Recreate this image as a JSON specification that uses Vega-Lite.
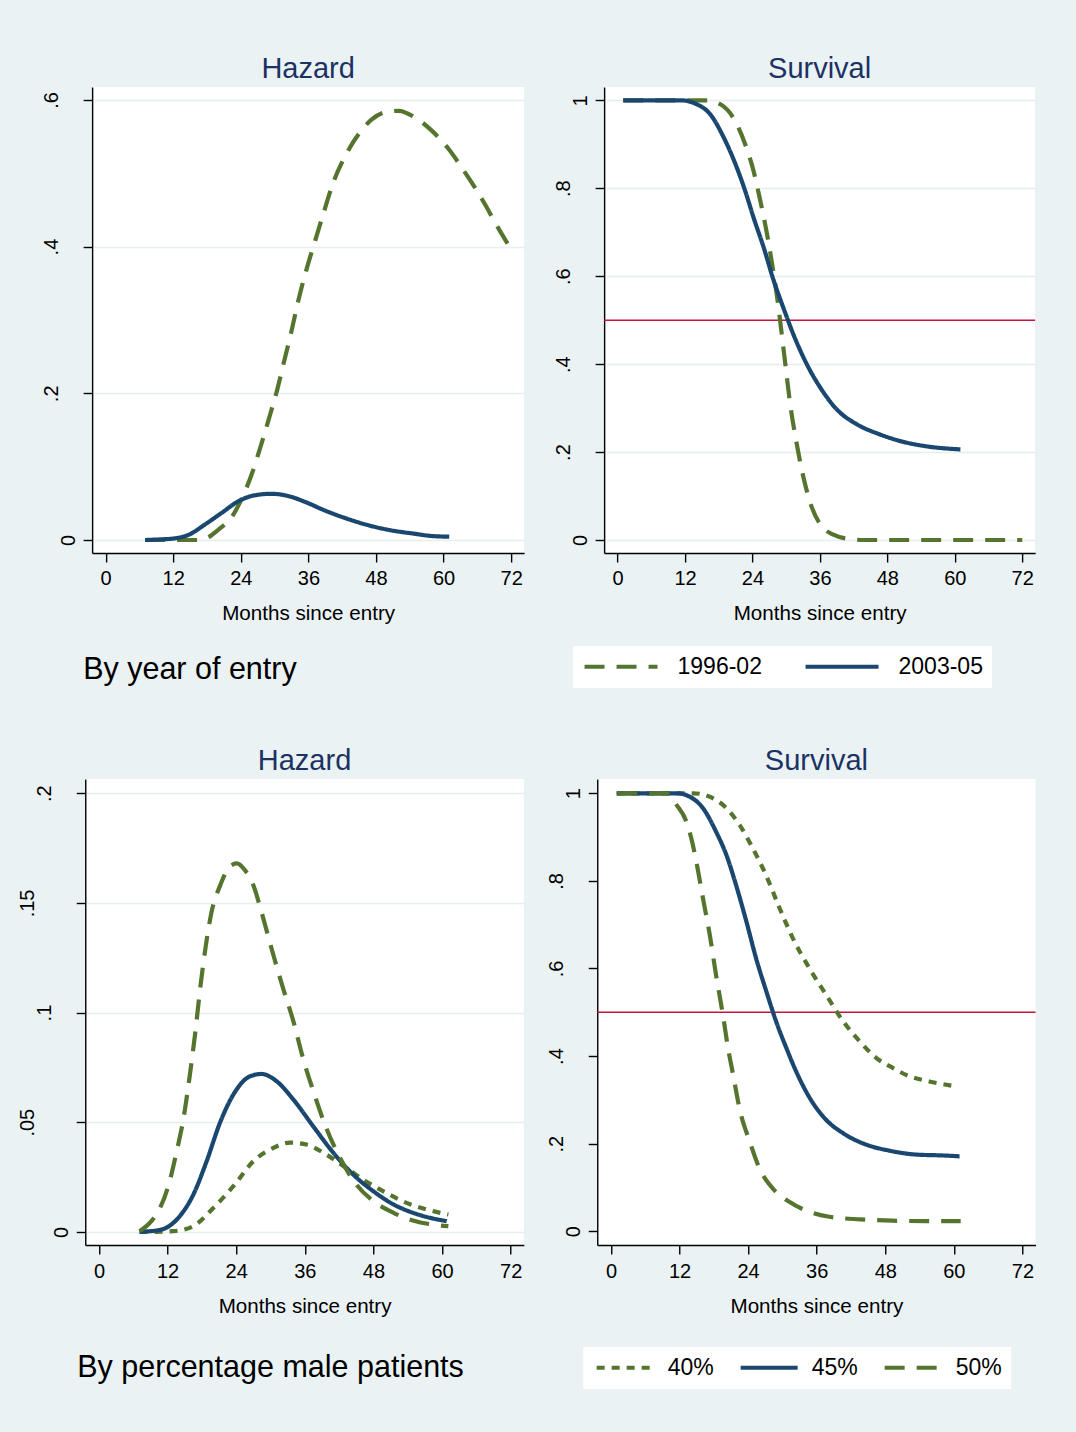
{
  "$schema": "https://vega.github.io/schema/vega-lite/v6.json",
  "background": "#EAF2F3",
  "padding": {"left": 15, "top": 55, "right": 45, "bottom": 50},
  "datasets": {
    "h1": [
      {"m": 7, "v": 0, "g": "1996-02"}, {"m": 10, "v": 0, "g": "1996-02"}, {"m": 13, "v": 0, "g": "1996-02"}, {"m": 16.5, "v": 0, "g": "1996-02"},
      {"m": 18.5, "v": 0.005, "g": "1996-02"}, {"m": 20, "v": 0.014, "g": "1996-02"}, {"m": 22.7, "v": 0.035, "g": "1996-02"}, {"m": 24.2, "v": 0.057, "g": "1996-02"},
      {"m": 25.9, "v": 0.089, "g": "1996-02"}, {"m": 27.7, "v": 0.132, "g": "1996-02"}, {"m": 29.2, "v": 0.171, "g": "1996-02"}, {"m": 30.4, "v": 0.203, "g": "1996-02"},
      {"m": 31.6, "v": 0.241, "g": "1996-02"}, {"m": 33, "v": 0.285, "g": "1996-02"}, {"m": 34.2, "v": 0.326, "g": "1996-02"}, {"m": 35.7, "v": 0.37, "g": "1996-02"},
      {"m": 37.2, "v": 0.408, "g": "1996-02"}, {"m": 38.7, "v": 0.446, "g": "1996-02"}, {"m": 40.4, "v": 0.487, "g": "1996-02"}, {"m": 42.5, "v": 0.523, "g": "1996-02"},
      {"m": 44.9, "v": 0.553, "g": "1996-02"}, {"m": 47.2, "v": 0.573, "g": "1996-02"}, {"m": 49.6, "v": 0.583, "g": "1996-02"}, {"m": 52, "v": 0.585, "g": "1996-02"},
      {"m": 54.9, "v": 0.576, "g": "1996-02"}, {"m": 57.9, "v": 0.558, "g": "1996-02"}, {"m": 60.9, "v": 0.533, "g": "1996-02"}, {"m": 63.2, "v": 0.508, "g": "1996-02"},
      {"m": 65.6, "v": 0.48, "g": "1996-02"}, {"m": 67.4, "v": 0.457, "g": "1996-02"}, {"m": 69.2, "v": 0.432, "g": "1996-02"}, {"m": 72, "v": 0.396, "g": "1996-02"},
      {"m": 7, "v": 0, "g": "2003-05"}, {"m": 10, "v": 0.001, "g": "2003-05"}, {"m": 12, "v": 0.002, "g": "2003-05"}, {"m": 14.7, "v": 0.007, "g": "2003-05"},
      {"m": 17.6, "v": 0.021, "g": "2003-05"}, {"m": 20.6, "v": 0.037, "g": "2003-05"}, {"m": 23.6, "v": 0.053, "g": "2003-05"}, {"m": 26.5, "v": 0.061, "g": "2003-05"},
      {"m": 29.5, "v": 0.063, "g": "2003-05"}, {"m": 32.4, "v": 0.06, "g": "2003-05"}, {"m": 35.4, "v": 0.052, "g": "2003-05"}, {"m": 39, "v": 0.04, "g": "2003-05"},
      {"m": 42.5, "v": 0.03, "g": "2003-05"}, {"m": 46.7, "v": 0.02, "g": "2003-05"}, {"m": 50.8, "v": 0.013, "g": "2003-05"}, {"m": 54.4, "v": 0.009, "g": "2003-05"},
      {"m": 57.9, "v": 0.0055, "g": "2003-05"}, {"m": 61, "v": 0.0045, "g": "2003-05"}
    ],
    "s1": [
      {"m": 1, "v": 1, "g": "1996-02"}, {"m": 8, "v": 1, "g": "1996-02"}, {"m": 15.9, "v": 1, "g": "1996-02"}, {"m": 18.3, "v": 0.991, "g": "1996-02"},
      {"m": 20.6, "v": 0.96, "g": "1996-02"}, {"m": 22.7, "v": 0.9, "g": "1996-02"}, {"m": 24.2, "v": 0.839, "g": "1996-02"}, {"m": 25.4, "v": 0.771, "g": "1996-02"},
      {"m": 26.6, "v": 0.695, "g": "1996-02"}, {"m": 27.5, "v": 0.627, "g": "1996-02"}, {"m": 28.4, "v": 0.551, "g": "1996-02"}, {"m": 29.1, "v": 0.48, "g": "1996-02"},
      {"m": 29.8, "v": 0.405, "g": "1996-02"}, {"m": 30.7, "v": 0.31, "g": "1996-02"}, {"m": 31.9, "v": 0.217, "g": "1996-02"}, {"m": 33.1, "v": 0.141, "g": "1996-02"},
      {"m": 34.6, "v": 0.073, "g": "1996-02"}, {"m": 36.1, "v": 0.035, "g": "1996-02"}, {"m": 38.4, "v": 0.012, "g": "1996-02"}, {"m": 41.4, "v": 0.002, "g": "1996-02"},
      {"m": 43.8, "v": 0, "g": "1996-02"}, {"m": 50, "v": 0, "g": "1996-02"}, {"m": 60, "v": 0, "g": "1996-02"}, {"m": 72, "v": 0, "g": "1996-02"},
      {"m": 1, "v": 1, "g": "2003-05"}, {"m": 8, "v": 1, "g": "2003-05"}, {"m": 11.2, "v": 1, "g": "2003-05"}, {"m": 14.1, "v": 0.991, "g": "2003-05"},
      {"m": 16.5, "v": 0.968, "g": "2003-05"}, {"m": 18.9, "v": 0.915, "g": "2003-05"}, {"m": 21, "v": 0.854, "g": "2003-05"}, {"m": 22.7, "v": 0.794, "g": "2003-05"},
      {"m": 24.2, "v": 0.733, "g": "2003-05"}, {"m": 26, "v": 0.665, "g": "2003-05"}, {"m": 27.8, "v": 0.589, "g": "2003-05"}, {"m": 29.5, "v": 0.528, "g": "2003-05"},
      {"m": 31.3, "v": 0.467, "g": "2003-05"}, {"m": 33.7, "v": 0.399, "g": "2003-05"}, {"m": 36.1, "v": 0.346, "g": "2003-05"}, {"m": 39, "v": 0.297, "g": "2003-05"},
      {"m": 42.6, "v": 0.263, "g": "2003-05"}, {"m": 46.7, "v": 0.24, "g": "2003-05"}, {"m": 50.3, "v": 0.225, "g": "2003-05"}, {"m": 55, "v": 0.213, "g": "2003-05"},
      {"m": 61, "v": 0.206, "g": "2003-05"}
    ],
    "h2": [
      {"m": 7.1, "v": 0, "g": "40%"}, {"m": 10, "v": 0, "g": "40%"}, {"m": 13, "v": 0.0003, "g": "40%"}, {"m": 16.5, "v": 0.0026, "g": "40%"},
      {"m": 20, "v": 0.0109, "g": "40%"}, {"m": 23.5, "v": 0.0208, "g": "40%"}, {"m": 27, "v": 0.0322, "g": "40%"}, {"m": 30.5, "v": 0.0383, "g": "40%"},
      {"m": 33.4, "v": 0.0407, "g": "40%"}, {"m": 36.3, "v": 0.0398, "g": "40%"}, {"m": 39.8, "v": 0.0352, "g": "40%"}, {"m": 43.3, "v": 0.029, "g": "40%"},
      {"m": 46.7, "v": 0.023, "g": "40%"}, {"m": 50.2, "v": 0.0178, "g": "40%"}, {"m": 53.8, "v": 0.0132, "g": "40%"}, {"m": 57.3, "v": 0.0102, "g": "40%"},
      {"m": 61.1, "v": 0.0079, "g": "40%"},
      {"m": 7.1, "v": 0, "g": "45%"}, {"m": 10.7, "v": 0.0009, "g": "45%"}, {"m": 13.6, "v": 0.0056, "g": "45%"}, {"m": 16.5, "v": 0.017, "g": "45%"},
      {"m": 18.8, "v": 0.032, "g": "45%"}, {"m": 21.2, "v": 0.05, "g": "45%"}, {"m": 23.5, "v": 0.0626, "g": "45%"}, {"m": 26.4, "v": 0.0709, "g": "45%"},
      {"m": 28.4, "v": 0.072, "g": "45%"}, {"m": 31.1, "v": 0.0686, "g": "45%"}, {"m": 34, "v": 0.0603, "g": "45%"}, {"m": 37.5, "v": 0.048, "g": "45%"},
      {"m": 41, "v": 0.036, "g": "45%"}, {"m": 44.5, "v": 0.026, "g": "45%"}, {"m": 48, "v": 0.0185, "g": "45%"}, {"m": 51.5, "v": 0.0125, "g": "45%"},
      {"m": 54.9, "v": 0.0087, "g": "45%"}, {"m": 58.4, "v": 0.0061, "g": "45%"}, {"m": 60.8, "v": 0.0049, "g": "45%"},
      {"m": 7.1, "v": 0.0003, "g": "50%"}, {"m": 9.2, "v": 0.005, "g": "50%"}, {"m": 10.7, "v": 0.011, "g": "50%"}, {"m": 12.2, "v": 0.0216, "g": "50%"},
      {"m": 13.6, "v": 0.0368, "g": "50%"}, {"m": 14.8, "v": 0.052, "g": "50%"}, {"m": 15.9, "v": 0.0717, "g": "50%"}, {"m": 16.8, "v": 0.09, "g": "50%"},
      {"m": 17.7, "v": 0.111, "g": "50%"}, {"m": 18.6, "v": 0.129, "g": "50%"}, {"m": 19.7, "v": 0.146, "g": "50%"}, {"m": 21.2, "v": 0.158, "g": "50%"},
      {"m": 22.9, "v": 0.1666, "g": "50%"}, {"m": 24.1, "v": 0.168, "g": "50%"}, {"m": 25.5, "v": 0.165, "g": "50%"}, {"m": 27, "v": 0.158, "g": "50%"},
      {"m": 28.4, "v": 0.146, "g": "50%"}, {"m": 30.2, "v": 0.129, "g": "50%"}, {"m": 32.2, "v": 0.111, "g": "50%"}, {"m": 34, "v": 0.096, "g": "50%"},
      {"m": 35.7, "v": 0.079, "g": "50%"}, {"m": 37.5, "v": 0.064, "g": "50%"}, {"m": 39.8, "v": 0.047, "g": "50%"}, {"m": 42.1, "v": 0.034, "g": "50%"},
      {"m": 45, "v": 0.0216, "g": "50%"}, {"m": 48, "v": 0.014, "g": "50%"}, {"m": 51.5, "v": 0.0087, "g": "50%"}, {"m": 54.9, "v": 0.0052, "g": "50%"},
      {"m": 58.4, "v": 0.0033, "g": "50%"}, {"m": 61.1, "v": 0.0026, "g": "50%"}
    ],
    "s2": [
      {"m": 1, "v": 1, "g": "40%"}, {"m": 8, "v": 1, "g": "40%"}, {"m": 14.4, "v": 1, "g": "40%"}, {"m": 17.3, "v": 0.992, "g": "40%"},
      {"m": 20.2, "v": 0.966, "g": "40%"}, {"m": 22.5, "v": 0.928, "g": "40%"}, {"m": 24.8, "v": 0.875, "g": "40%"}, {"m": 27.1, "v": 0.814, "g": "40%"},
      {"m": 29.5, "v": 0.738, "g": "40%"}, {"m": 31.8, "v": 0.67, "g": "40%"}, {"m": 34.7, "v": 0.601, "g": "40%"}, {"m": 37.6, "v": 0.541, "g": "40%"},
      {"m": 40.6, "v": 0.48, "g": "40%"}, {"m": 43.5, "v": 0.434, "g": "40%"}, {"m": 46.4, "v": 0.396, "g": "40%"}, {"m": 49.3, "v": 0.373, "g": "40%"},
      {"m": 52.2, "v": 0.354, "g": "40%"}, {"m": 55.7, "v": 0.342, "g": "40%"}, {"m": 60.3, "v": 0.331, "g": "40%"},
      {"m": 1, "v": 1, "g": "45%"}, {"m": 8, "v": 1, "g": "45%"}, {"m": 11.5, "v": 1, "g": "45%"}, {"m": 13.8, "v": 0.992, "g": "45%"},
      {"m": 16.1, "v": 0.966, "g": "45%"}, {"m": 18.4, "v": 0.912, "g": "45%"}, {"m": 20.2, "v": 0.859, "g": "45%"}, {"m": 21.9, "v": 0.79, "g": "45%"},
      {"m": 23.7, "v": 0.707, "g": "45%"}, {"m": 25.4, "v": 0.623, "g": "45%"}, {"m": 27.2, "v": 0.547, "g": "45%"}, {"m": 28.9, "v": 0.479, "g": "45%"},
      {"m": 30.7, "v": 0.418, "g": "45%"}, {"m": 32.4, "v": 0.365, "g": "45%"}, {"m": 34.8, "v": 0.304, "g": "45%"}, {"m": 37.6, "v": 0.255, "g": "45%"},
      {"m": 40.6, "v": 0.224, "g": "45%"}, {"m": 44.6, "v": 0.198, "g": "45%"}, {"m": 48.7, "v": 0.184, "g": "45%"}, {"m": 53.4, "v": 0.175, "g": "45%"},
      {"m": 58, "v": 0.173, "g": "45%"}, {"m": 61, "v": 0.171, "g": "45%"},
      {"m": 1.1, "v": 1, "g": "50%"}, {"m": 6, "v": 1, "g": "50%"}, {"m": 9.7, "v": 1, "g": "50%"}, {"m": 11.5, "v": 0.973, "g": "50%"},
      {"m": 13.2, "v": 0.935, "g": "50%"}, {"m": 14.1, "v": 0.895, "g": "50%"}, {"m": 14.95, "v": 0.843, "g": "50%"}, {"m": 16.1, "v": 0.76, "g": "50%"},
      {"m": 17.3, "v": 0.676, "g": "50%"}, {"m": 18.4, "v": 0.584, "g": "50%"}, {"m": 19.6, "v": 0.493, "g": "50%"}, {"m": 20.5, "v": 0.417, "g": "50%"},
      {"m": 21.4, "v": 0.356, "g": "50%"}, {"m": 22.5, "v": 0.28, "g": "50%"}, {"m": 24.3, "v": 0.204, "g": "50%"}, {"m": 26, "v": 0.143, "g": "50%"},
      {"m": 28.3, "v": 0.098, "g": "50%"}, {"m": 31.2, "v": 0.067, "g": "50%"}, {"m": 34.8, "v": 0.044, "g": "50%"}, {"m": 38.2, "v": 0.033, "g": "50%"},
      {"m": 43.6, "v": 0.027, "g": "50%"}, {"m": 49.3, "v": 0.024, "g": "50%"}, {"m": 55.1, "v": 0.023, "g": "50%"}, {"m": 61.2, "v": 0.023, "g": "50%"}
    ]
  },
  "columns": 1,
  "center": true,
  "spacing": 59,
  "concat": [
    {
      "title": {"text": "By year of entry", "orient": "bottom", "anchor": "start", "frame": "bounds", "fontSize": 30.5, "color": "black", "baseline": "alphabetic", "offset": -9.4, "dx": 68},
      "spacing": 15,
      "resolve": {"scale": {"color": "independent", "strokeDash": "independent"}, "legend": {"color": "independent", "strokeDash": "independent"}},
      "hconcat": [
        {
          "title": "Hazard",
          "width": 432, "height": 466,
          "data": {"name": "h1"},
          "mark": {"type": "line", "strokeWidth": 4.2, "interpolate": "monotone"},
          "encoding": {
            "x": {"field": "m", "type": "quantitative", "title": "Months since entry",
                  "scale": {"domain": [-2.4, 74.3], "nice": false, "zero": false},
                  "axis": {"values": [0, 12, 24, 36, 48, 60, 72], "labelPadding": 6}},
            "y": {"field": "v", "type": "quantitative", "title": null,
                  "scale": {"domain": [-0.0177, 0.6175], "nice": false, "zero": false},
                  "axis": {"values": [0, 0.2, 0.4, 0.6], "minExtent": 77,
                           "labelExpr": "replace(toString(datum.value), '0.', '.')",
                           "labelPadding": {"condition": {"test": "datum.value == 0", "value": 14.4}, "value": 31.4}}},
            "color": {"field": "g", "type": "nominal", "legend": null,
                      "scale": {"domain": ["1996-02", "2003-05"], "range": ["#55752F", "#1A476F"]}},
            "strokeDash": {"field": "g", "type": "nominal", "legend": null,
                      "scale": {"domain": ["1996-02", "2003-05"], "range": [[20, 12], [1, 0]]}}
          }
        },
        {
          "title": "Survival",
          "width": 431, "height": 466,
          "layer": [
            {
              "data": {"values": [{"v": 0.5}]},
              "mark": {"type": "rule", "color": "#C8143C", "strokeWidth": 1.5},
              "encoding": {"y": {"field": "v", "type": "quantitative"}}
            },
            {
              "data": {"name": "s1"},
              "mark": {"type": "line", "strokeWidth": 4.2, "interpolate": "monotone"},
              "encoding": {
                "x": {"field": "m", "type": "quantitative", "title": "Months since entry",
                      "scale": {"domain": [-2.4, 74.3], "nice": false, "zero": false},
                      "axis": {"values": [0, 12, 24, 36, 48, 60, 72], "labelPadding": 6}},
                "y": {"field": "v", "type": "quantitative", "title": null,
                      "scale": {"domain": [-0.0296, 1.0303], "nice": false, "zero": false},
                      "axis": {"values": [0, 0.2, 0.4, 0.6, 0.8, 1], "minExtent": 64.7,
                               "labelExpr": "replace(toString(datum.value), '0.', '.')",
                               "labelPadding": {"condition": {"test": "datum.value == 0 || datum.value == 1", "value": 14.4}, "value": 31.4}}},
                "color": {"field": "g", "type": "nominal",
                          "scale": {"domain": ["1996-02", "2003-05"], "range": ["#55752F", "#1A476F"]},
                          "legend": {"orient": "none", "legendX": -31, "legendY": 559, "direction": "horizontal", "title": null,
                                     "fillColor": "white", "padding": 9, "symbolType": "M-4,0H4", "symbolSize": 333, "symbolOffset": 27.4, "symbolStrokeWidth": 4.2,
                                     "labelFontSize": 23, "labelOffset": 45, "columnPadding": 35, "labelColor": "black", "labelFont": "Liberation Sans"}},
                "strokeDash": {"field": "g", "type": "nominal",
                          "scale": {"domain": ["1996-02", "2003-05"], "range": [[20, 12], [1, 0]]},
                          "legend": {"orient": "none", "legendX": -31, "legendY": 559, "direction": "horizontal", "title": null,
                                     "fillColor": "white", "padding": 9, "symbolType": "M-4,0H4", "symbolSize": 333, "symbolOffset": 27.4, "symbolStrokeWidth": 4.2,
                                     "labelFontSize": 23, "labelOffset": 45, "columnPadding": 35, "labelColor": "black", "labelFont": "Liberation Sans"}}
              }
            }
          ]
        }
      ]
    },
    {
      "title": {"text": "By percentage male patients", "orient": "bottom", "anchor": "start", "frame": "bounds", "fontSize": 30.5, "color": "black", "baseline": "alphabetic", "offset": -11.6, "dx": 62},
      "spacing": 15,
      "resolve": {"scale": {"color": "independent", "strokeDash": "independent"}, "legend": {"color": "independent", "strokeDash": "independent"}},
      "hconcat": [
        {
          "title": "Hazard",
          "width": 438.6, "height": 466,
          "data": {"name": "h2"},
          "mark": {"type": "line", "strokeWidth": 4.2, "interpolate": "monotone"},
          "encoding": {
            "x": {"field": "m", "type": "quantitative", "title": "Months since entry",
                  "scale": {"domain": [-2.4, 74.3], "nice": false, "zero": false},
                  "axis": {"values": [0, 12, 24, 36, 48, 60, 72], "labelPadding": 7}},
            "y": {"field": "v", "type": "quantitative", "title": null,
                  "scale": {"domain": [-0.006, 0.2065], "nice": false, "zero": false},
                  "axis": {"values": [0, 0.05, 0.1, 0.15, 0.2], "minExtent": 70,
                           "labelExpr": "replace(toString(datum.value), '0.', '.')",
                           "labelPadding": {"condition": [{"test": "datum.value == 0", "value": 14.4}, {"test": "datum.value == 0.05 || datum.value == 0.15", "value": 48.4}], "value": 31.4}}},
            "color": {"field": "g", "type": "nominal", "legend": null,
                      "scale": {"domain": ["40%", "45%", "50%"], "range": ["#55752F", "#1A476F", "#55752F"]}},
            "strokeDash": {"field": "g", "type": "nominal", "legend": null,
                      "scale": {"domain": ["40%", "45%", "50%"], "range": [[8, 7], [1, 0], [20, 12]]}}
          }
        },
        {
          "title": "Survival",
          "width": 438.3, "height": 466,
          "resolve": {"axis": {"y": "independent"}},
          "layer": [
            {
              "data": {"values": [{"v": 0.5}]},
              "mark": {"type": "rule", "color": "#C8143C", "strokeWidth": 1.5},
              "encoding": {"y": {"field": "v", "type": "quantitative",
                                 "axis": {"orient": "right", "labels": false, "ticks": false, "domain": false, "grid": false, "title": null, "minExtent": 7.2}}}
            },
            {
              "data": {"name": "s2"},
              "mark": {"type": "line", "strokeWidth": 4.2, "interpolate": "monotone"},
              "encoding": {
                "x": {"field": "m", "type": "quantitative", "title": "Months since entry",
                      "scale": {"domain": [-2.4, 74.3], "nice": false, "zero": false},
                      "axis": {"values": [0, 12, 24, 36, 48, 60, 72], "labelPadding": 7}},
                "y": {"field": "v", "type": "quantitative", "title": null,
                      "scale": {"domain": [-0.0315, 1.0326], "nice": false, "zero": false},
                      "axis": {"orient": "left", "values": [0, 0.2, 0.4, 0.6, 0.8, 1], "minExtent": 57.7,
                               "labelExpr": "replace(toString(datum.value), '0.', '.')",
                               "labelPadding": {"condition": {"test": "datum.value == 0 || datum.value == 1", "value": 14.4}, "value": 31.4}}},
                "color": {"field": "g", "type": "nominal",
                          "scale": {"domain": ["40%", "45%", "50%"], "range": ["#55752F", "#1A476F", "#55752F"]},
                          "legend": {"orient": "none", "legendX": -14, "legendY": 568, "direction": "horizontal", "title": null,
                                     "fillColor": "white", "padding": 9, "symbolType": "M-4,0H4", "symbolSize": 203, "symbolOffset": 21.4, "symbolStrokeWidth": 4.2,
                                     "labelFontSize": 23, "labelOffset": 31, "columnPadding": 18, "labelColor": "black", "labelFont": "Liberation Sans"}},
                "strokeDash": {"field": "g", "type": "nominal",
                          "scale": {"domain": ["40%", "45%", "50%"], "range": [[8, 7], [1, 0], [20, 12]]},
                          "legend": {"orient": "none", "legendX": -14, "legendY": 568, "direction": "horizontal", "title": null,
                                     "fillColor": "white", "padding": 9, "symbolType": "M-4,0H4", "symbolSize": 203, "symbolOffset": 21.4, "symbolStrokeWidth": 4.2,
                                     "labelFontSize": 23, "labelOffset": 31, "columnPadding": 18, "labelColor": "black", "labelFont": "Liberation Sans"}}
              }
            }
          ]
        }
      ]
    }
  ],
  "resolve": {"scale": {"color": "independent", "strokeDash": "independent"}, "legend": {"color": "independent", "strokeDash": "independent"}},
  "config": {
    "font": "Liberation Sans",
    "view": {"fill": "white", "stroke": null},
    "title": {"fontSize": 29, "fontWeight": "normal", "color": "#1C3263", "baseline": "alphabetic", "offset": 3, "frame": "group", "anchor": "middle", "font": "Liberation Sans"},
    "axis": {"labelFontSize": 20, "titleFontSize": 20.6, "titleFontWeight": "normal", "labelColor": "black", "titleColor": "black",
             "domainColor": "black", "tickColor": "black", "domainWidth": 1.4, "tickWidth": 1.4, "tickSize": 9,
             "labelFont": "Liberation Sans", "titleFont": "Liberation Sans", "labelOverlap": false, "labelFlush": false, "labelBound": false},
    "axisX": {"grid": false, "titlePadding": 15},
    "axisY": {"grid": true, "gridColor": "#E6EEF0", "gridWidth": 1.5, "labelAngle": 270, "labelAlign": "center", "labelBaseline": "middle"}
  }
}
